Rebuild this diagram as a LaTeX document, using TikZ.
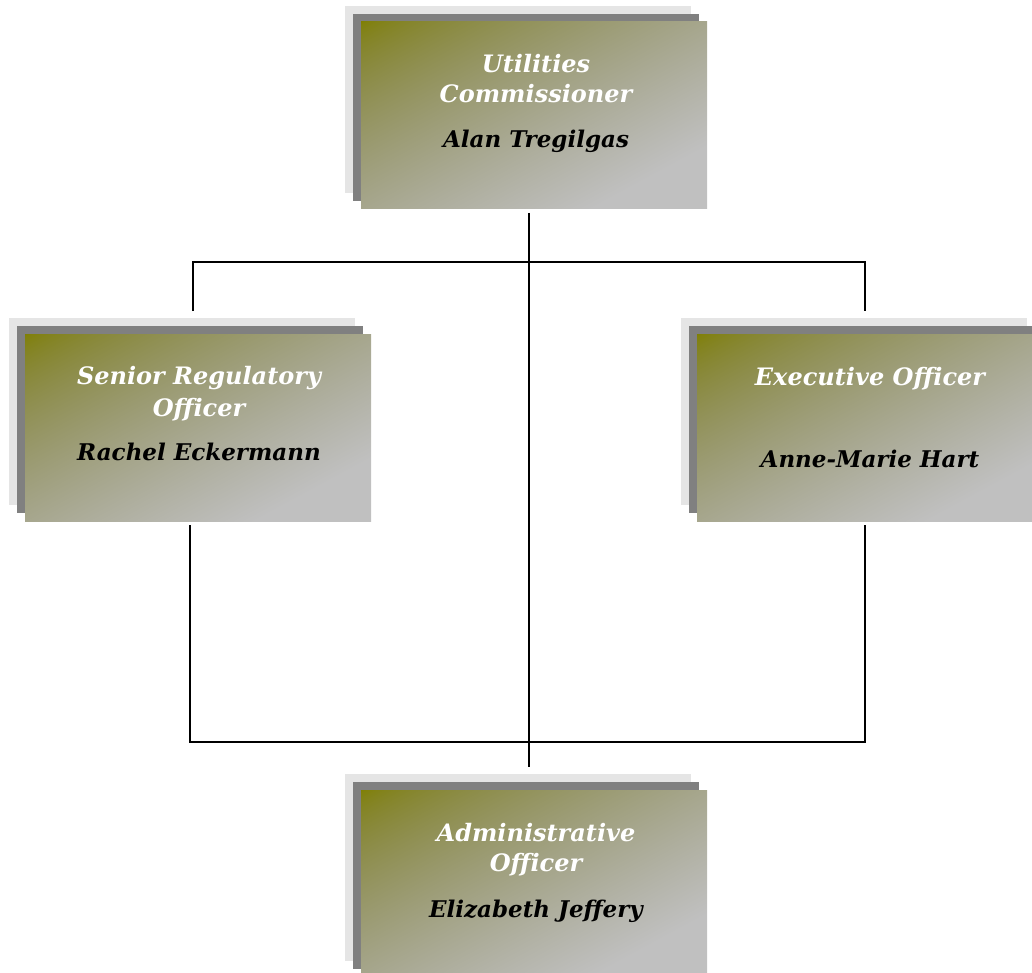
\documentclass[tikz,border=0pt]{standalone}
\usepackage{fontspec}
\setmainfont{DejaVu Serif}
\usetikzlibrary{calc}
\definecolor{shlight}{RGB}{229,229,229}
\definecolor{shdark}{RGB}{128,128,128}
\pgfdeclarefunctionalshading{diagolive}{\pgfpointorigin}{\pgfpoint{100bp}{100bp}}{}{
  sub 50 add 100 div 1.2 mul
  dup 1 gt {pop 1} if
  dup 0 lt {pop 0} if
  dup 0.6 exp 0.753 mul
  exch 0.251 mul 0.502 add
  dup
  3 -1 roll
}
\tikzset{
  boxsize/.style={minimum width=346pt, minimum height=187pt, inner sep=0pt, draw=none},
  shlightbox/.style={boxsize, fill=shlight},
  shdarkbox/.style={boxsize, fill=shdark},
  mainbox/.style={boxsize, shading=diagolive},
  ttl/.style={anchor=base, inner sep=0pt, text=white, font=\fontsize{24}{29}\selectfont\bfseries\itshape},
  nm/.style={anchor=base, inner sep=0pt, text=black, font=\fontsize{23}{28}\selectfont\bfseries\itshape},
  conn/.style={line width=2pt, black}
}
\newcommand\orgbox[3]{%
  \node[shlightbox] (#1l) at ($(#2,#3)+(-16,-16)$) {};
  \node[shdarkbox] (#1d) at ($(#2,#3)+(-8,-8)$) {};
  \node[mainbox] (#1) at (#2,#3) {};
}
\begin{document}
\begin{tikzpicture}[x=1pt,y=-1pt]
\useasboundingbox (0,0) rectangle (1032,973);
\clip (0,0) rectangle (1032,973);
% connectors
\coordinate (ctop) at (529,213);
\coordinate (cbot) at (529,767);
\coordinate (hl) at (193,262);
\coordinate (hr) at (865,262);
\coordinate (dl) at (193,311);
\coordinate (dr) at (865,311);
\coordinate (ul) at (190,525);
\coordinate (bl) at (190,742);
\coordinate (br) at (865,742);
\coordinate (ur) at (865,525);
\draw[conn] (ctop) -- (cbot);
\draw[conn] (dl) -- (hl) -- (hr) -- (dr);
\draw[conn] (ul) -- (bl) -- (br) -- (ur);
% boxes
\orgbox{top}{534}{115.5}
\orgbox{left}{198}{427.5}
\orgbox{right}{870}{427.5}
\orgbox{bot}{534}{883.5}
% texts
\node[ttl] (ta) at (536,73) {Utilities};
\node[ttl] (tb) at (536,103) {Commissioner};
\node[nm] (tc) at (536,148) {Alan Tregilgas};
\node[ttl] (la) at (199,384) {Senior Regulatory};
\node[ttl] (lb) at (199,416) {Officer};
\node[nm] (lc) at (199,460) {Rachel Eckermann};
\node[ttl] (ra) at (870,385) {Executive Officer};
\node[nm] (rc) at (870,467) {Anne-Marie Hart};
\node[ttl] (ba) at (536,841) {Administrative};
\node[ttl] (bb) at (536,871) {Officer};
\node[nm] (bc) at (536,917) {Elizabeth Jeffery};
\end{tikzpicture}
\end{document}
